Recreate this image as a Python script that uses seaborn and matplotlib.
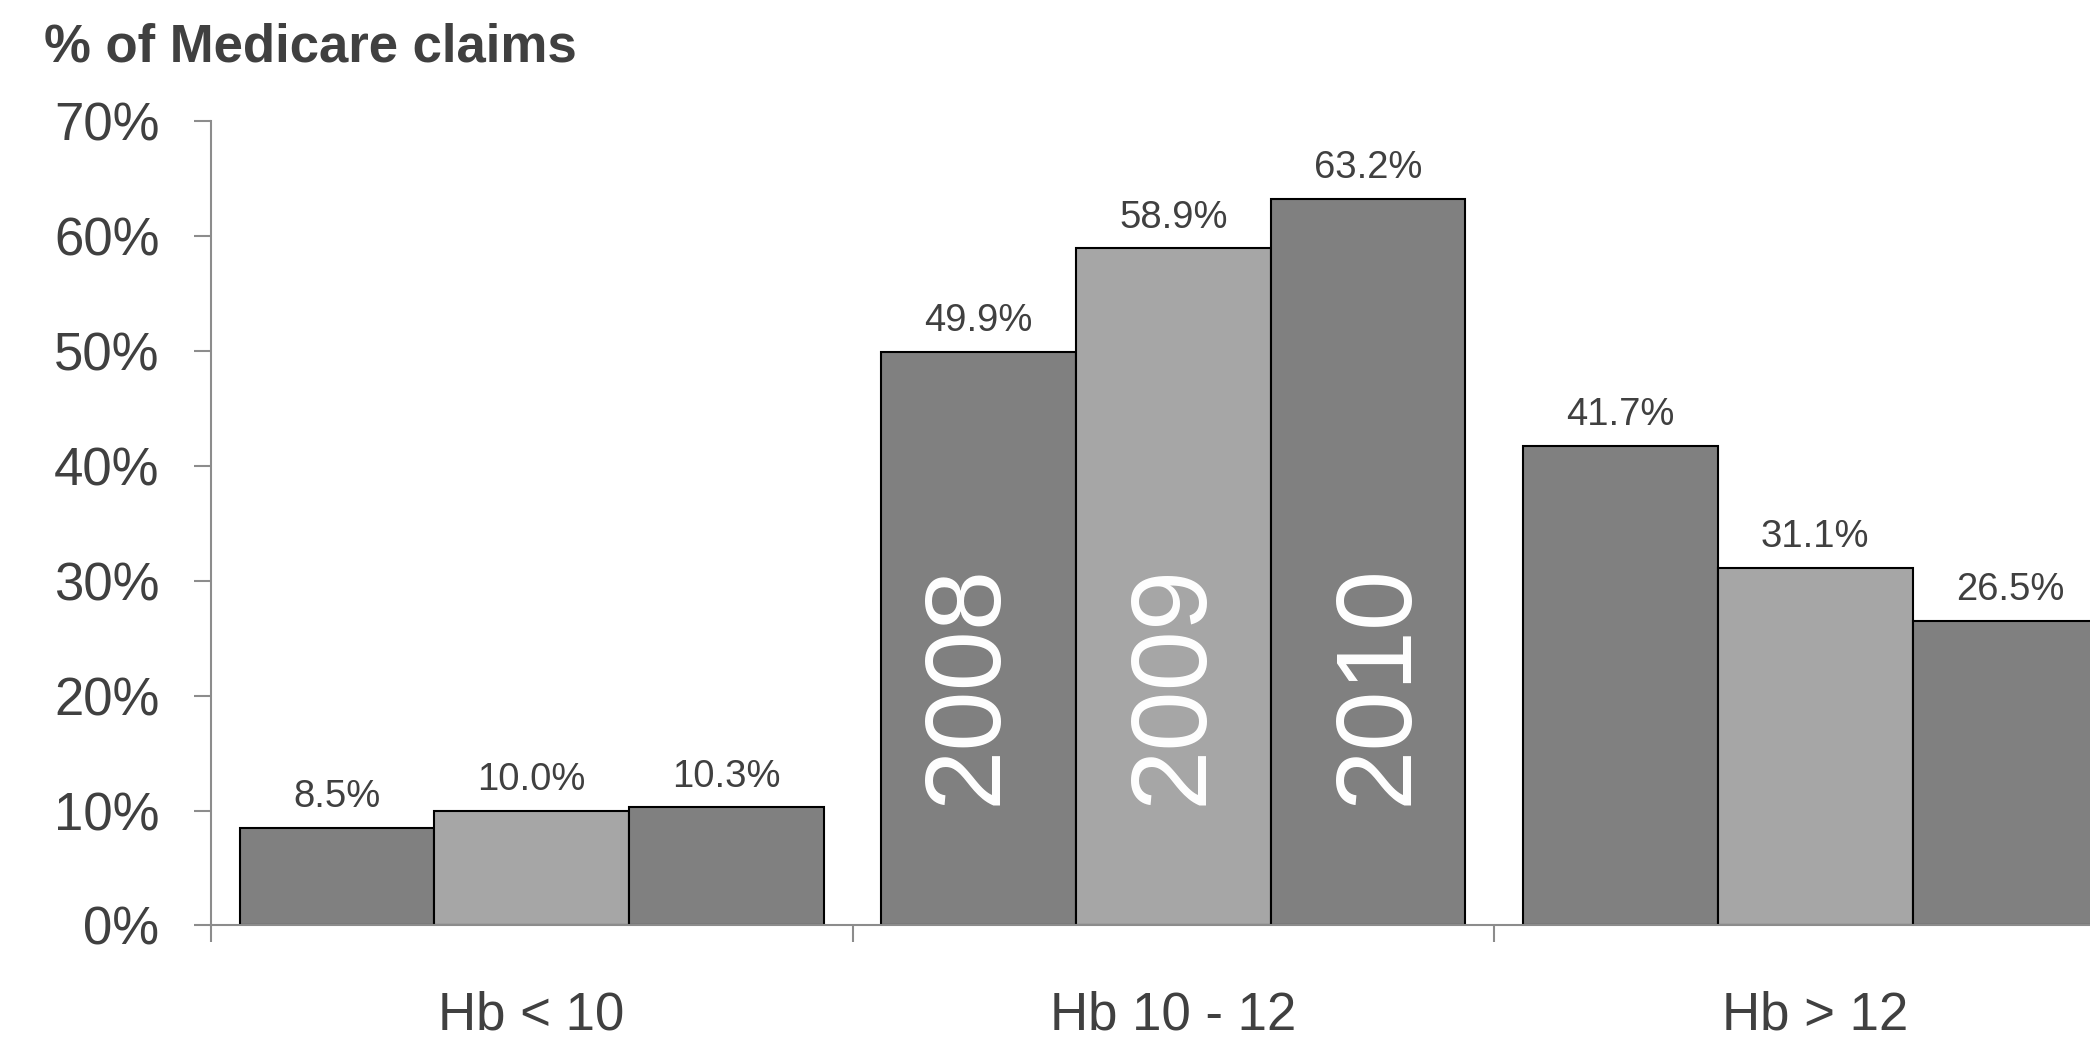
import numpy as np
import pandas as pd
import matplotlib
matplotlib.use("Agg")
import matplotlib.pyplot as plt
import seaborn as sns

# ---- data ----
categories = ["Hb < 10", "Hb 10 - 12", "Hb > 12"]
years = ["2008", "2009", "2010"]
v2008 = [8.5, 49.9, 41.7]
v2009 = [10.0, 58.9, 31.1]
v2010 = [10.3, 63.2, 26.5]
y_ticks = [0, 10, 20, 30, 40, 50, 60, 70]
y_tick_labels = ["0%", "10%", "20%", "30%", "40%", "50%", "60%", "70%"]
title = "% of Medicare claims"

sns.set_theme(style="white")
plt.rcParams["font.family"] = ["Liberation Sans", "DejaVu Sans"]

df = pd.DataFrame({
    "category": categories * 3,
    "year": np.repeat(years, len(categories)),
    "value": v2008 + v2009 + v2010,
})

TXT = "#404040"
AX = "#8c8c8c"

fig = plt.figure(figsize=(20.9, 10.4), dpi=100)
ax = fig.add_axes([0.1008, 0.1101, 0.9213, 0.7740])

sns.barplot(data=df, x="category", y="value", hue="year",
            order=categories, hue_order=years,
            palette=["#808080", "#a6a6a6", "#808080"],
            width=0.91, edgecolor="black", linewidth=1.5,
            errorbar=None, legend=False, saturation=1, ax=ax)

for cont, vals in zip(ax.containers, [v2008, v2009, v2010]):
    ax.bar_label(cont, labels=[f"{v:.1f}%" for v in vals], padding=9,
                 fontsize=27.5, color=TXT)

# year labels inside middle group
for xpos, yr in zip([0.7235, 1.0431, 1.3629], years):
    ax.text(xpos, 10.5, yr, rotation=90, rotation_mode="anchor",
            ha="left", va="baseline", fontsize=78, color="white")

ax.set_xlim(-0.5, 2.5)
ax.set_ylim(0, 70)
ax.set_xlabel("")
ax.set_ylabel("")

ax.set_xticks([0, 1, 2])
ax.set_xticklabels(categories)
ax.set_xticks([-0.5, 0.5, 1.5, 2.5], minor=True)
ax.set_yticks(y_ticks)
ax.set_yticklabels(y_tick_labels)

ax.tick_params(axis="x", which="major", bottom=True, length=0, pad=47,
               labelsize=38, labelcolor=TXT)
ax.tick_params(axis="x", which="minor", bottom=True, length=12.2, width=1.5,
               color=AX, direction="out")
ax.tick_params(axis="y", which="major", left=True, length=12.2, width=1.5,
               color=AX, direction="out", pad=24.6, labelsize=38, labelcolor=TXT)

for s in ["top", "right"]:
    ax.spines[s].set_visible(False)
for s in ["left", "bottom"]:
    ax.spines[s].set_color(AX)
    ax.spines[s].set_linewidth(1.5)

fig.text(44 / 2090, 1 - 62 / 1040, title, fontsize=38, fontweight="bold",
         color=TXT, ha="left", va="baseline")

fig.savefig("out.png", dpi=100)
